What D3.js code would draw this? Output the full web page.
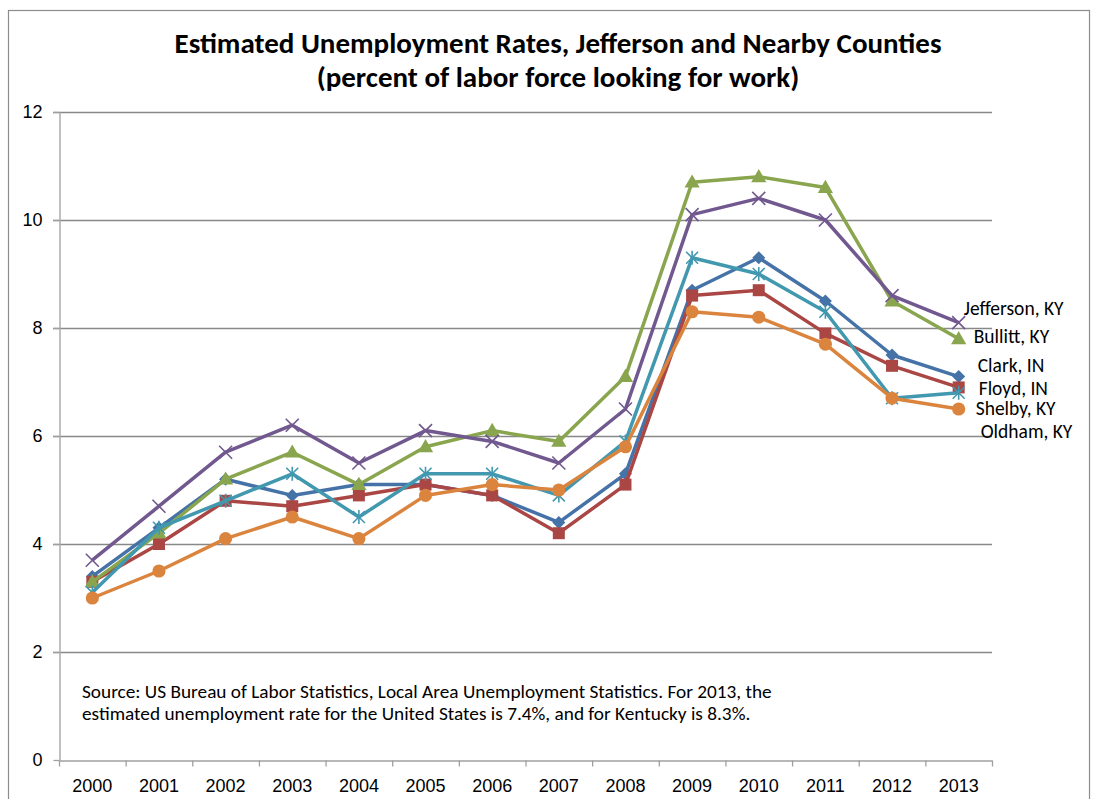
<!DOCTYPE html>
<html>
<head>
<meta charset="utf-8">
<script src="https://cdn.jsdelivr.net/npm/d3@7"></script>
<style>
	body { margin: 0; background: #fff; }
	svg { display: block; font-family: Calibri, Carlito, "Open Sans", sans-serif; }
</style>
</head>
<body>
<div id="chart"></div>
<script>
"use strict";

//  Data
const years = ['2000', '2001', '2002', '2003', '2004', '2005', '2006', '2007', '2008', '2009', '2010', '2011', '2012', '2013'];
const clark     = [3.4, 4.3, 5.2, 4.9, 5.1, 5.1, 4.9, 4.4, 5.3, 8.7, 9.3, 8.5, 7.5, 7.1];
const floyd     = [3.3, 4.0, 4.8, 4.7, 4.9, 5.1, 4.9, 4.2, 5.1, 8.6, 8.7, 7.9, 7.3, 6.9];
const bullitt   = [3.3, 4.2, 5.2, 5.7, 5.1, 5.8, 6.1, 5.9, 7.1, 10.7, 10.8, 10.6, 8.5, 7.8];
const jefferson = [3.7, 4.7, 5.7, 6.2, 5.5, 6.1, 5.9, 5.5, 6.5, 10.1, 10.4, 10.0, 8.6, 8.1];
const shelby    = [3.1, 4.3, 4.8, 5.3, 4.5, 5.3, 5.3, 4.9, 5.9, 9.3, 9.0, 8.3, 6.7, 6.8];
const oldham    = [3.0, 3.5, 4.1, 4.5, 4.1, 4.9, 5.1, 5.0, 5.8, 8.3, 8.2, 7.7, 6.7, 6.5];
const yTicks = [0, 2, 4, 6, 8, 10, 12];

const titleLines = ['Estimated Unemployment Rates, Jefferson and Nearby Counties', '(percent of labor force looking for work)'];
const sourceLines = [
	'Source: US Bureau of Labor Statistics, Local Area Unemployment Statistics. For 2013, the',
	'estimated unemployment rate for the United States is 7.4%, and for Kentucky is 8.3%.'
];

const series = [
	{ name: 'Clark, IN',     values: clark,     color: '#4572A7', marker: 'diamond',  labelDx: 19, labelY: 365 },
	{ name: 'Floyd, IN',     values: floyd,     color: '#AA4643', marker: 'square',   labelDx: 20, labelY: 388 },
	{ name: 'Bullitt, KY',   values: bullitt,   color: '#89A54E', marker: 'triangle', labelDx: 15, labelY: 336 },
	{ name: 'Jefferson, KY', values: jefferson, color: '#71588F', marker: 'x',        labelDx: 5,  labelY: 308 },
	{ name: 'Shelby, KY',    values: shelby,    color: '#4198AF', marker: 'asterisk', labelDx: 17, labelY: 408 },
	{ name: 'Oldham, KY',    values: oldham,    color: '#DB843D', marker: 'circle',   labelDx: 22, labelY: 431 }
];

//  Layout
const width = 1095, height = 799;
const plot = { left: 59, right: 992, top: 112, bottom: 760 };

const svg = d3.select('#chart').append('svg')
	.attr('width', width)
	.attr('height', height);

//  Chart frame
svg.append('rect')
	.attr('x', 8.5).attr('y', 10.5)
	.attr('width', 1081).attr('height', 820)
	.attr('fill', 'none')
	.attr('stroke', '#8c8c8c')
	.attr('stroke-width', 1.2);

const x = d3.scaleBand().domain(years).range([plot.left, plot.right]).padding(0);
const y = d3.scaleLinear().domain([0, 12]).range([plot.bottom, plot.top]);
const cx = year => x(year) + x.bandwidth() / 2;

//  Gridlines
svg.append('g').selectAll('line')
	.data(yTicks.filter(t => t > 0))
	.join('line')
	.attr('x1', plot.left - 6).attr('x2', plot.right)
	.attr('y1', t => y(t) + 0.5).attr('y2', t => y(t) + 0.5)
	.attr('stroke', '#888')
	.attr('stroke-width', 1.3);

//  Y axis
const yAxis = svg.append('g')
	.attr('transform', `translate(${plot.left + 0.5},0)`)
	.call(d3.axisLeft(y).tickValues(yTicks).tickSize(6).tickSizeOuter(0).tickPadding(11));
yAxis.select('.domain').attr('stroke', '#ababab').attr('stroke-width', 1.5);
yAxis.selectAll('.tick line').attr('stroke', '#a0a0a0').attr('stroke-width', 1.3);
yAxis.selectAll('.tick text').attr('font-size', 18).attr('fill', '#000').attr('font-family', null);

//  X axis
const xAxis = svg.append('g')
	.attr('transform', `translate(0,${plot.bottom + 0.5})`)
	.call(d3.axisBottom(x).tickSize(0).tickPadding(19));
xAxis.select('.domain').attr('stroke', '#a0a0a0').attr('stroke-width', 1.3);
xAxis.selectAll('.tick text').attr('font-size', 18).attr('fill', '#000').attr('font-family', null);
xAxis.selectAll('.boundary')
	.data(years.map(yr => x(yr)).concat([plot.right]))
	.join('line')
	.attr('x1', d => d + 0.5).attr('x2', d => d + 0.5)
	.attr('y1', 0).attr('y2', 6)
	.attr('stroke', '#a0a0a0')
	.attr('stroke-width', 1.3);

//  Lines
const line = d3.line()
	.x((v, i) => cx(years[i]))
	.y(v => y(v));

const seriesGroups = svg.append('g').selectAll('g')
	.data(series)
	.join('g');

seriesGroups.append('path')
	.attr('d', s => line(s.values))
	.attr('fill', 'none')
	.attr('stroke', s => s.color)
	.attr('stroke-width', 3.5)
	.attr('stroke-linejoin', 'round');

//  Markers
function markerPath(type)
{
	switch (type)
	{
		case 'diamond':  return d3.symbol(d3.symbolSquare, 85)();
		case 'square':   return d3.symbol(d3.symbolSquare, 144)();
		case 'triangle': return d3.symbol(d3.symbolTriangle, 100)();
		case 'circle':   return d3.symbol(d3.symbolCircle, 135)();
		case 'x':        return 'M-6.5,-6.5L6.5,6.5M-6.5,6.5L6.5,-6.5';
		case 'asterisk': return 'M-6,-6L6,6M-6,6L6,-6M0,-7L0,7';
	}
}

seriesGroups.each(function(s)
{
	const stroked = s.marker === 'x' || s.marker === 'asterisk';
	d3.select(this).selectAll('.marker')
		.data(s.values)
		.join('path')
		.classed('marker', true)
		.attr('d', markerPath(s.marker))
		.attr('transform', (v, i) => `translate(${cx(years[i])},${y(v) + (s.marker === 'triangle' ? 1 : 0)})` + (s.marker === 'diamond' ? ' rotate(45)' : ''))
		.attr('fill', stroked ? 'none' : s.color)
		.attr('stroke', stroked ? s.color : 'none')
		.attr('stroke-width', 1.6);
});

//  Series labels
svg.append('g').selectAll('text')
	.data(series)
	.join('text')
	.attr('x', s => cx(years[years.length - 1]) + s.labelDx)
	.attr('y', s => s.labelY)
	.attr('dy', '0.35em')
	.attr('font-size', 19.5)
	.text(s => s.name);

//  Title
svg.append('g').selectAll('text')
	.data(titleLines)
	.join('text')
	.attr('x', 558)
	.attr('y', (d, i) => 53 + i * 34)
	.attr('text-anchor', 'middle')
	.attr('font-size', 29)
	.attr('font-weight', 'bold')
	.text(d => d);

//  Source note
svg.append('g').selectAll('text')
	.data(sourceLines)
	.join('text')
	.attr('x', 82)
	.attr('y', (d, i) => 698 + i * 22)
	.attr('font-size', 19.3)
	.text(d => d);
</script>
</body>
</html>
